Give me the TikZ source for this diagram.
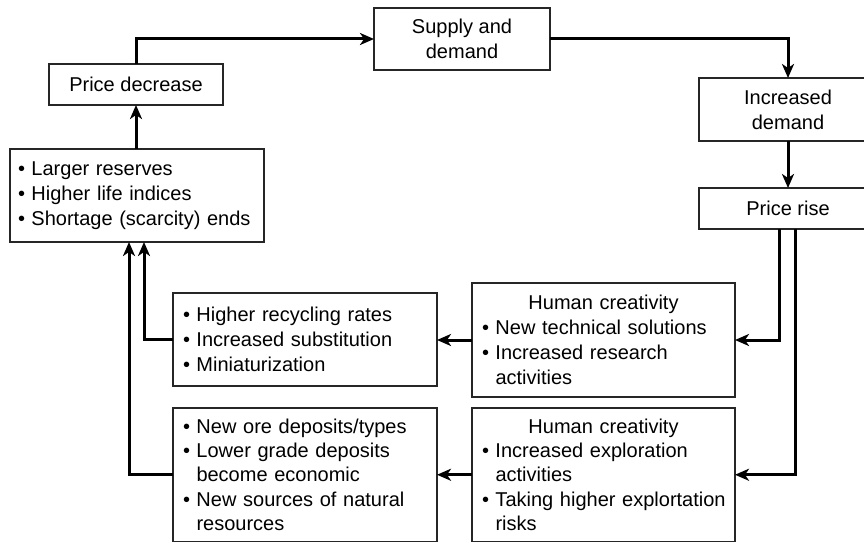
\documentclass[tikz,border=0pt]{standalone}
\usepackage{fontspec}
\setmainfont{Liberation Sans}
\usetikzlibrary{arrows.meta}
\newcommand\bul[1]{\mbox{\makebox[13.5pt][l]{•}#1}}
\newcommand\ind[1]{\mbox{\hspace*{13.5pt}#1}}
\newcommand\hdr[1]{\makebox[\hsize]{#1}}
\begin{document}
\begin{tikzpicture}[x=1pt,y=-1pt,
  box/.style={draw=black!85,line width=1.7pt,inner ysep=0pt,outer sep=0pt,
    font=\fontsize{20}{25}\selectfont,text=black},
  cbox/.style={box,inner xsep=0pt,align=center},
  lbox/.style={box,align=left},
  arr/.style={line width=3pt,draw=black,
    -{Stealth[length=14pt,width=12pt,inset=4pt]}}]
\useasboundingbox[fill=white] (0,0) rectangle (864,543);

\node[cbox,minimum width=176pt,minimum height=62pt] (sd) at (462,39) {Supply and\\demand};
\node[cbox,minimum width=174pt,minimum height=41pt] (pd) at (136,84.5) {Price decrease};
\node[cbox,minimum width=178pt,minimum height=63pt] (id) at (788,109.5) {Increased\\demand};
\node[cbox,minimum width=178pt,minimum height=41pt] (pr) at (788,208.5) {Price rise};

\node[lbox,inner xsep=8pt,text width=238pt,minimum height=93pt] (lr) at (137,195.5)
  {\bul{Larger reserves}\\ \bul{Higher life indices}\\ \bul{Shortage (scarcity) ends}};

\node[lbox,inner xsep=10pt,text width=244pt,minimum height=93pt] (rc) at (305,339.5)
  {\bul{Higher recycling rates}\\ \bul{Increased substitution}\\ \bul{Miniaturization}};

\node[lbox,inner xsep=10pt,text width=244pt,minimum height=133.5pt,
  font=\fontsize{20}{24.2}\selectfont] (ore) at (305,474.75)
  {\bul{New ore deposits/types}\\ \bul{Lower grade deposits}\\ \ind{become economic}\\
   \bul{New sources of natural}\\ \ind{resources}};

\node[lbox,inner xsep=10pt,text width=243pt,minimum height=114pt] (hc1) at (603.5,340)
  {\hdr{Human creativity}\\ \bul{New technical solutions}\\ \bul{Increased research}\\ \ind{activities}};

\node[lbox,inner xsep=10pt,text width=243pt,minimum height=133.5pt,
  font=\fontsize{20}{24.2}\selectfont] (hc2) at (603.5,474.75)
  {\hdr{Human creativity}\\ \bul{Increased exploration}\\ \ind{activities}\\
   \bul{Taking higher explortation}\\ \ind{risks}};

% connectors
\draw[arr] (pd.north) |- (sd.west);
\draw[arr] (sd.east) -| (id.north);
\draw[arr] (id.south) -- (pr.north);
\draw[arr] ([xshift=-8.5pt]pr.south) |- (hc1.east);
\draw[arr] ([xshift=7pt]pr.south) |- (hc2.east);
\draw[arr] (hc1.west) -- (hc1.west -| rc.east);
\draw[arr] (hc2.west) -- (hc2.west -| ore.east);
\draw[arr] (rc.west) -| ([xshift=7pt]lr.south);
\draw[arr] (ore.west) -| ([xshift=-8pt]lr.south);
\draw[arr] (lr.north -| pd.south) -- (pd.south);
\end{tikzpicture}
\end{document}
